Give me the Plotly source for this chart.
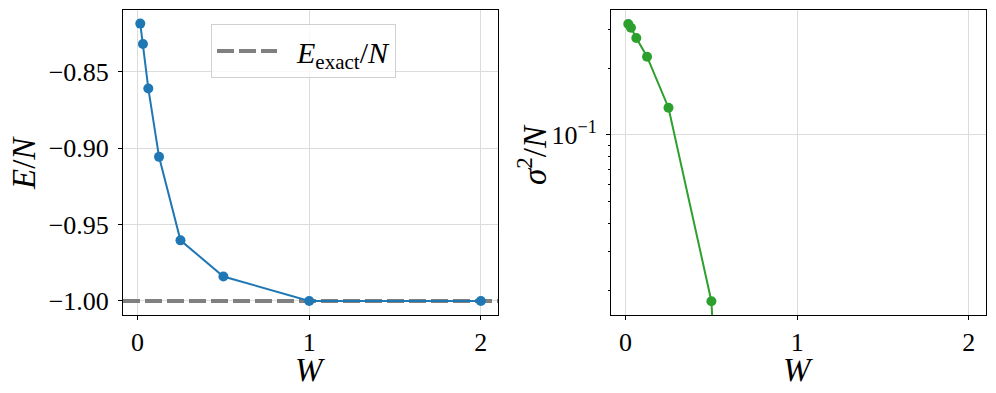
import plotly.graph_objects as go

# data
W = [1/64, 1/32, 1/16, 1/8, 1/4, 1/2, 1, 2]
energy = [-0.8183, -0.8317, -0.8608, -0.9056, -0.9603, -0.9840, -1.0, -1.0]
variance = [0.316, 0.304, 0.2735, 0.2253, 0.1327, 0.01782, 1e-9, 1e-9]
E_exact = -1.0

x_ticks = [0, 1, 2]
x_tick_text = ["0", "1", "2"]
e_ticks = [-1.00, -0.95, -0.90, -0.85]
e_tick_text = ["\u22121.00", "\u22120.95", "\u22120.90", "\u22120.85"]
var_ticks = [0.1]
var_tick_text = ["10<sup>\u22121</sup>"]
var_minor = [0.02, 0.03, 0.04, 0.05, 0.06, 0.07, 0.08, 0.09, 0.2, 0.3]

x_range = [-0.085, 2.1]

FONT = "Liberation Serif"
BLUE = "#1f77b4"
GREEN = "#2ca02c"

# the page body has an 8px margin, so the figure is drawn 8px in from the corner
OFF = 8
FIG_W, FIG_H = 996 - 2 * OFF, 393 - 2 * OFF


def px_x(x):
    return (x - OFF) / FIG_W


def px_y(y):
    return 1 - (y - OFF) / FIG_H


fig = go.Figure()

# exact energy reference line across the whole axis
fig.add_trace(go.Scatter(
    x=x_range, y=[E_exact, E_exact], mode="lines",
    line=dict(color="#808080", width=4, dash="17px,5px"),
    name="\u00a0\u00a0<i>E</i><sub>exact</sub>/<i>N</i>", showlegend=True,
    xaxis="x", yaxis="y",
))
fig.add_trace(go.Scatter(
    x=W, y=energy, mode="lines+markers",
    line=dict(color=BLUE, width=2), marker=dict(color=BLUE, size=10),
    showlegend=False, xaxis="x", yaxis="y",
))
fig.add_trace(go.Scatter(
    x=W, y=variance, mode="lines+markers",
    line=dict(color=GREEN, width=2), marker=dict(color=GREEN, size=10),
    showlegend=False, xaxis="x2", yaxis="y2",
))

axis_style = dict(
    showline=True, linecolor="black", linewidth=1, mirror=True,
    ticks="outside", ticklen=4, tickwidth=1, tickcolor="black",
    showgrid=True, gridcolor="#dcdcdc", gridwidth=1, zeroline=False,
    automargin=False,
    tickfont=dict(family=FONT, size=26, color="black"),
)

y_dom = [px_y(315), px_y(10)]

fig.update_layout(
    width=FIG_W, height=FIG_H,
    margin=dict(l=0, r=0, t=0, b=0),
    paper_bgcolor="white", plot_bgcolor="white",
    font=dict(family=FONT, color="black"),
    xaxis=dict(domain=[px_x(123), px_x(498)], range=x_range, anchor="y",
               tickvals=x_ticks, ticktext=x_tick_text, ticklabelstandoff=0,
               **axis_style),
    yaxis=dict(domain=y_dom, range=[-1.0092, -0.8094], anchor="x",
               tickvals=e_ticks, ticktext=e_tick_text, ticklabelstandoff=4,
               **axis_style),
    xaxis2=dict(domain=[px_x(611), px_x(986)], range=x_range, anchor="y2",
                tickvals=x_ticks, ticktext=x_tick_text, ticklabelstandoff=0,
                **axis_style),
    yaxis2=dict(domain=y_dom, type="log",
                range=[-1.811, -0.437], anchor="x2",
                tickvals=var_ticks, ticktext=var_tick_text, ticklabelstandoff=4,
                minor=dict(tickmode="array", tickvals=var_minor, ticks="outside",
                           ticklen=2, tickwidth=1, tickcolor="black", showgrid=False),
                **axis_style),
    legend=dict(x=px_x(211), y=px_y(24), xanchor="left", yanchor="top",
                bgcolor="rgba(255,255,255,0.8)", bordercolor="#d0d0d0", borderwidth=1,
                font=dict(family=FONT, size=30, color="black"),
                itemwidth=60),
    annotations=[
        dict(text="<i>E</i>/<i>N</i>", x=px_x(24), y=px_y(163), xref="paper", yref="paper",
             xanchor="center", yanchor="middle",
             textangle=-90, showarrow=False, font=dict(family=FONT, size=33)),
        dict(text="<i>\u03c3</i><sup>2</sup>/<i>N</i>", x=px_x(532), y=px_y(155),
             xref="paper", yref="paper", xanchor="center", yanchor="middle",
             textangle=-90, showarrow=False, font=dict(family=FONT, size=33)),
        dict(text="<i>W</i>", x=px_x(310), y=px_y(370), xref="paper", yref="paper",
             xanchor="center", yanchor="middle",
             showarrow=False, font=dict(family=FONT, size=33)),
        dict(text="<i>W</i>", x=px_x(798), y=px_y(370), xref="paper", yref="paper",
             xanchor="center", yanchor="middle",
             showarrow=False, font=dict(family=FONT, size=33)),
    ],
)

fig.write_html("out.html")
